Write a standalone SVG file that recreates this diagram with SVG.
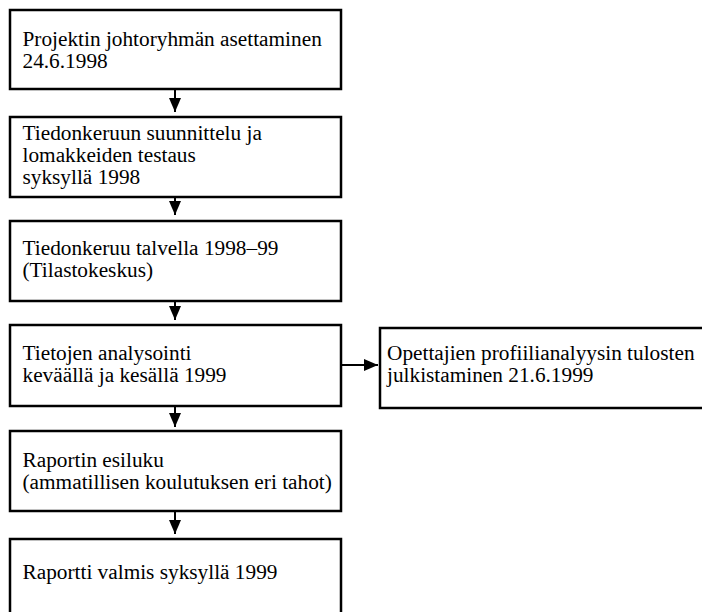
<svg xmlns="http://www.w3.org/2000/svg" width="702" height="612" viewBox="0 0 702 612">
<defs>
<style>
.box{fill:#fff;stroke:#000;stroke-width:2.5}
.t{font-size:21.3px;fill:#000}
.c{stroke:#000;stroke-width:2;fill:none}
</style>
<marker id="ah" viewBox="0 0 14 12" refX="14" refY="6" markerWidth="14" markerHeight="12" markerUnits="userSpaceOnUse" orient="auto">
<path d="M0,0 L14,6 L0,12 Z" fill="#000"/>
</marker>
</defs>
<rect width="702" height="612" fill="#fff"/>
<g font-family="Liberation Serif, serif">
<g id="n1"><rect class="box" x="10" y="10" width="331" height="79"/>
<text class="t" x="22.5" y="45.7">Projektin johtoryhmän asettaminen</text>
<text class="t" x="22.5" y="68">24.6.1998</text></g>
<g id="n2"><rect class="box" x="10" y="117" width="331" height="80"/>
<text class="t" x="22.5" y="140">Tiedonkeruun suunnittelu ja</text>
<text class="t" x="22.5" y="162">lomakkeiden testaus</text>
<text class="t" x="22.5" y="184">syksyllä 1998</text></g>
<g id="n3"><rect class="box" x="10" y="221" width="331" height="80"/>
<text class="t" x="22.5" y="255">Tiedonkeruu talvella 1998–99</text>
<text class="t" x="22.5" y="277">(Tilastokeskus)</text></g>
<g id="n4"><rect class="box" x="10" y="325" width="331" height="81"/>
<text class="t" x="22.5" y="360">Tietojen analysointi</text>
<text class="t" x="22.5" y="382">keväällä ja kesällä 1999</text></g>
<g id="n5"><rect class="box" x="380" y="328" width="330" height="80"/>
<text class="t" x="387" y="360">Opettajien profiilianalyysin tulosten</text>
<text class="t" x="387" y="382">julkistaminen 21.6.1999</text></g>
<g id="n6"><rect class="box" x="10" y="431" width="331" height="80"/>
<text class="t" x="22.5" y="466.5">Raportin esiluku</text>
<text class="t" x="22.5" y="488.5">(ammatillisen koulutuksen eri tahot)</text></g>
<g id="n7"><rect class="box" x="10" y="539" width="331" height="80"/>
<text class="t" x="22.5" y="579">Raportti valmis syksyllä 1999</text></g>
</g>
<g id="connectors">
<line class="c" x1="175" y1="89" x2="175" y2="112" marker-end="url(#ah)"/>
<line class="c" x1="175" y1="197" x2="175" y2="215" marker-end="url(#ah)"/>
<line class="c" x1="175" y1="301" x2="175" y2="320" marker-end="url(#ah)"/>
<line class="c" x1="175" y1="406" x2="175" y2="427" marker-end="url(#ah)"/>
<line class="c" x1="175" y1="511" x2="175" y2="534" marker-end="url(#ah)"/>
<line class="c" x1="341" y1="365" x2="378" y2="365" marker-end="url(#ah)"/>
</g>
</svg>
